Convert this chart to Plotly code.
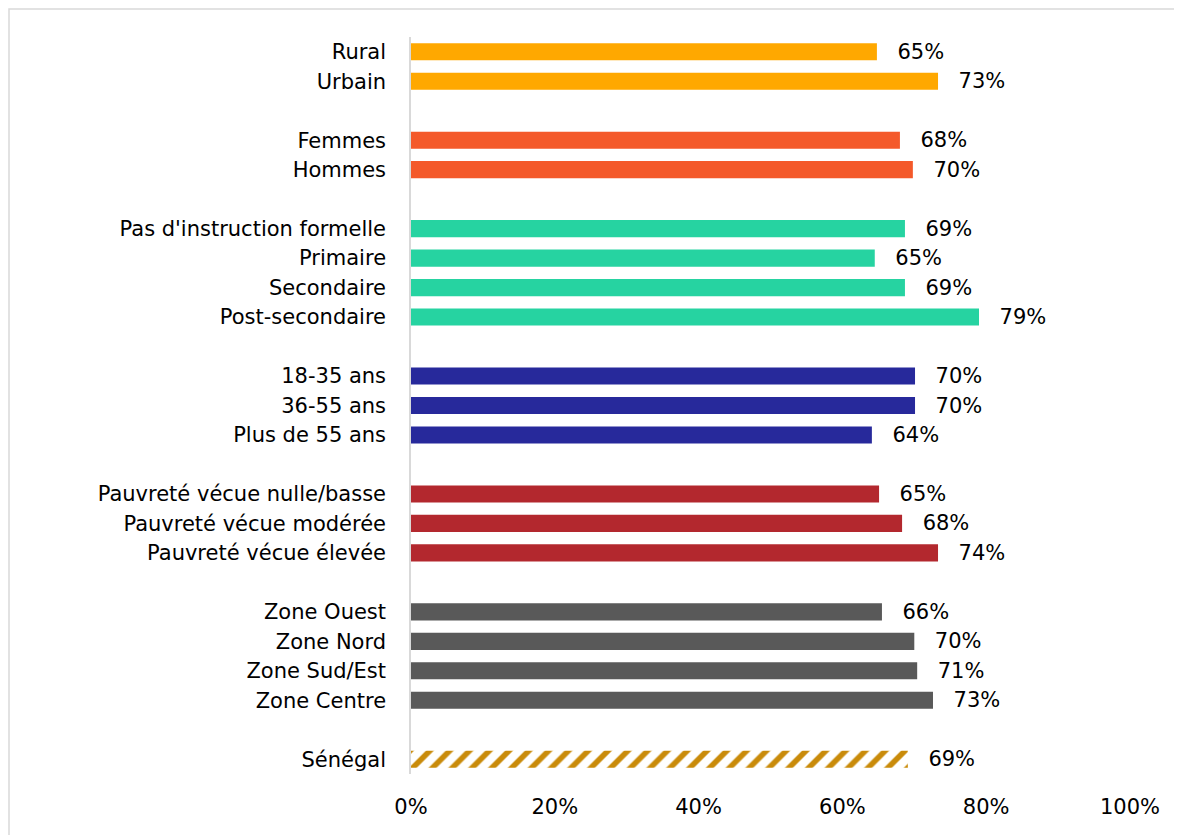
import plotly.graph_objects as go

categories = ["Rural", "Urbain",
              "Femmes", "Hommes",
              "Pas d'instruction formelle", "Primaire", "Secondaire", "Post-secondaire",
              "18-35 ans", "36-55 ans", "Plus de 55 ans",
              "Pauvreté vécue nulle/basse", "Pauvreté vécue modérée", "Pauvreté vécue élevée",
              "Zone Ouest", "Zone Nord", "Zone Sud/Est", "Zone Centre",
              "Sénégal"]
values = [64.8, 73.3,
          68.0, 69.8,
          68.7, 64.5, 68.7, 79.0,
          70.1, 70.1, 64.1,
          65.1, 68.3, 73.3,
          65.5, 70.0, 70.4, 72.6,
          69.1]
value_labels = ["65%", "73%",
                "68%", "70%",
                "69%", "65%", "69%", "79%",
                "70%", "70%", "64%",
                "65%", "68%", "74%",
                "66%", "70%", "71%", "73%",
                "69%"]
group_sizes = [2, 2, 4, 3, 3, 4, 1]
group_colors = ["#FFA800", "#F4592A", "#26D3A1", "#27299B", "#B3282E", "#595959", "#C98B0A"]
x_ticks = [0, 20, 40, 60, 80, 100]
x_tick_labels = ["0%", "20%", "40%", "60%", "80%", "100%"]

FONT = "DejaVu Sans"
FS = 21
PAD = "  \u2009"

# positions with a blank slot between groups
positions, colors, hatched = [], [], []
pos = 0
for gi, n in enumerate(group_sizes):
    for k in range(n):
        positions.append(pos)
        colors.append(group_colors[gi])
        hatched.append(gi == len(group_sizes) - 1)
        pos += 1
    pos += 1
last_pos = max(positions)

fig = go.Figure()
solid_idx = [i for i in range(len(categories)) if not hatched[i]]
hatch_idx = [i for i in range(len(categories)) if hatched[i]]

fig.add_trace(go.Bar(
    x=[values[i] for i in solid_idx],
    y=[positions[i] for i in solid_idx],
    orientation="h",
    width=0.58,
    marker=dict(color=[colors[i] for i in solid_idx], line=dict(width=0)),
    text=[PAD + value_labels[i] for i in solid_idx],
    textposition="outside",
    constraintext="none",
    textfont=dict(family=FONT, size=FS, color="#000000"),
    cliponaxis=False,
    hoverinfo="skip",
))
fig.add_trace(go.Bar(
    x=[values[i] for i in hatch_idx],
    y=[positions[i] for i in hatch_idx],
    orientation="h",
    width=0.58,
    marker=dict(color="white", line=dict(width=0),
                pattern=dict(shape="/", fgcolor=colors[hatch_idx[0]], bgcolor="white",
                             size=14, solidity=0.4, fillmode="replace")),
    text=[PAD + value_labels[i] for i in hatch_idx],
    textposition="outside",
    constraintext="none",
    textfont=dict(family=FONT, size=FS, color="#000000"),
    cliponaxis=False,
    hoverinfo="skip",
))

# page body has an 8px margin: plot area lands at page x 411-1130, y 37-774
W, H = 1174, 827
L, R, T, B = 403, 52, 29, 61
PW, PH = W - L - R, H - T - B

fig.update_layout(
    width=W, height=H,
    margin=dict(l=L, r=R, t=T, b=B),
    paper_bgcolor="white", plot_bgcolor="white",
    showlegend=False,
    font=dict(family=FONT, size=FS, color="#000000"),
    xaxis=dict(range=[0, 100], tickvals=x_ticks, ticktext=x_tick_labels,
               showgrid=False, zeroline=False, showline=False,
               ticks="", ticklabelstandoff=18,
               tickfont=dict(family=FONT, size=FS, color="#000000")),
    yaxis=dict(range=[last_pos + 0.5, -0.5], tickvals=positions, ticktext=categories,
               showgrid=False, zeroline=False, showline=True, linecolor="#D9D9D9",
               linewidth=1.5, ticks="", ticklabelstandoff=19,
               tickfont=dict(family=FONT, size=FS, color="#000000")),
    shapes=[dict(type="rect", xref="paper", yref="paper",
                 x0=(1 - L) / PW, x1=(W + 50 - L) / PW,
                 y0=-(B + 50) / PH, y1=(PH + T - 1) / PH,
                 line=dict(color="#D9D9D9", width=1.5), fillcolor="rgba(0,0,0,0)",
                 layer="below")],
)

fig.write_html("out.html")
